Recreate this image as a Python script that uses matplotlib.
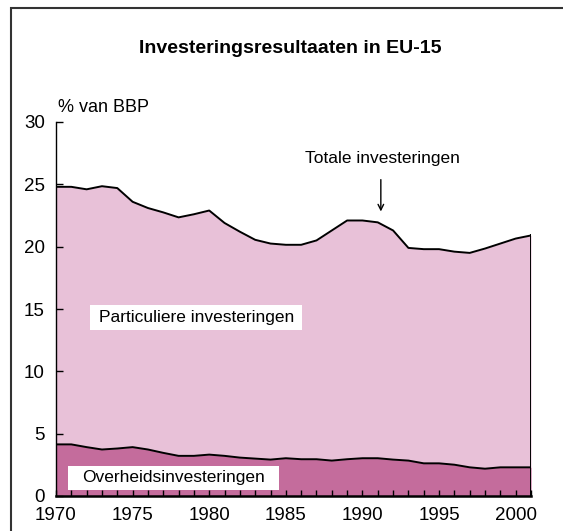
import matplotlib
matplotlib.use("Agg")
import matplotlib.pyplot as plt
from matplotlib.patches import Rectangle
from matplotlib.ticker import MultipleLocator

plt.rcParams['font.family'] = ['Liberation Sans', 'DejaVu Sans']

# data (% of GDP, EU-15)
years = list(range(1970, 2002))
total = [24.8, 24.8, 24.6, 24.85, 24.7, 23.6, 23.1, 22.75, 22.35, 22.6,
         22.9, 21.9, 21.2, 20.55, 20.25, 20.15, 20.15, 20.5, 21.3, 22.1,
         22.1, 21.95, 21.3, 19.9, 19.8, 19.8, 19.6, 19.5, 19.85, 20.25,
         20.65, 20.9]
public = [4.14, 4.14, 3.92, 3.73, 3.81, 3.92, 3.73, 3.46, 3.22, 3.22,
          3.32, 3.22, 3.08, 3.0, 2.92, 3.03, 2.95, 2.95, 2.84, 2.95,
          3.03, 3.03, 2.92, 2.84, 2.62, 2.62, 2.51, 2.3, 2.19, 2.3,
          2.3, 2.3]
xtick_years = [1970, 1975, 1980, 1985, 1990, 1995, 2000]
ytick_vals = [0, 5, 10, 15, 20, 25, 30]

light_pink = '#E8C1D8'
dark_pink = '#C46C9C'

W, H = 563, 531
fig = plt.figure(figsize=(W / 100, H / 100), dpi=100)
ax = fig.add_axes([56 / W, 1 - 496 / H, (531 - 56) / W, (496 - 122) / H])

# stacked areas
ax.fill_between(years, 0, total, color=light_pink, lw=0)
ax.fill_between(years, 0, public, color=dark_pink, lw=0)
ax.plot(years, total, color='black', lw=1.4)
ax.plot(years, public, color='black', lw=1.4)
ax.plot([years[-1], years[-1]], [0, total[-1]], color='black', lw=1.4)

ax.set_xlim(1970, 2001)
ax.set_ylim(0, 30)
ax.set_xticks(xtick_years)
ax.set_yticks(ytick_vals)
ax.xaxis.set_minor_locator(MultipleLocator(1))
ax.tick_params(axis='both', which='both', direction='in', labelsize=13.5,
               color='black', width=1)
ax.tick_params(axis='x', which='both', length=4, pad=8)
ax.tick_params(axis='y', which='major', length=5, pad=8)
for s in ['top', 'right']:
    ax.spines[s].set_visible(False)
ax.spines['bottom'].set_linewidth(1.8)
ax.spines['left'].set_linewidth(1.0)
ax.set_zorder(2)

# white label boxes
ax.add_patch(Rectangle((1972.2, 13.3), 13.85, 2.0, facecolor='white',
                       edgecolor='none', zorder=3))
ax.add_patch(Rectangle((1970.8, 0.48), 13.75, 1.93, facecolor='white',
                       edgecolor='none', zorder=3))
ax.text(1979.15, 14.3, 'Particuliere investeringen', fontsize=12.5,
        ha='center', va='center', zorder=4)
ax.text(1977.65, 1.45, 'Overheidsinvesteringen', fontsize=12.5,
        ha='center', va='center', zorder=4)
ax.annotate('', xy=(1991.2, 22.6), xytext=(1991.2, 25.6),
            arrowprops=dict(arrowstyle='->', color='black', lw=1))
ax.text(1991.3, 27.1, 'Totale investeringen', fontsize=12.5,
        ha='center', va='center')

fig.text(290 / W, 1 - 48 / H, 'Investeringsresultaaten in EU-15',
         fontsize=14, fontweight='bold', ha='center', va='center')
fig.text(58 / W, 1 - 108 / H, '% van BBP', fontsize=13,
         ha='left', va='center')

# outer frame
fig.patches.append(Rectangle((11 / W, -0.05), 1.2, 1 - 8 / H + 0.05,
                             transform=fig.transFigure, fill=False,
                             edgecolor='#333333', lw=1.5))

fig.savefig('out.png', dpi=100)
